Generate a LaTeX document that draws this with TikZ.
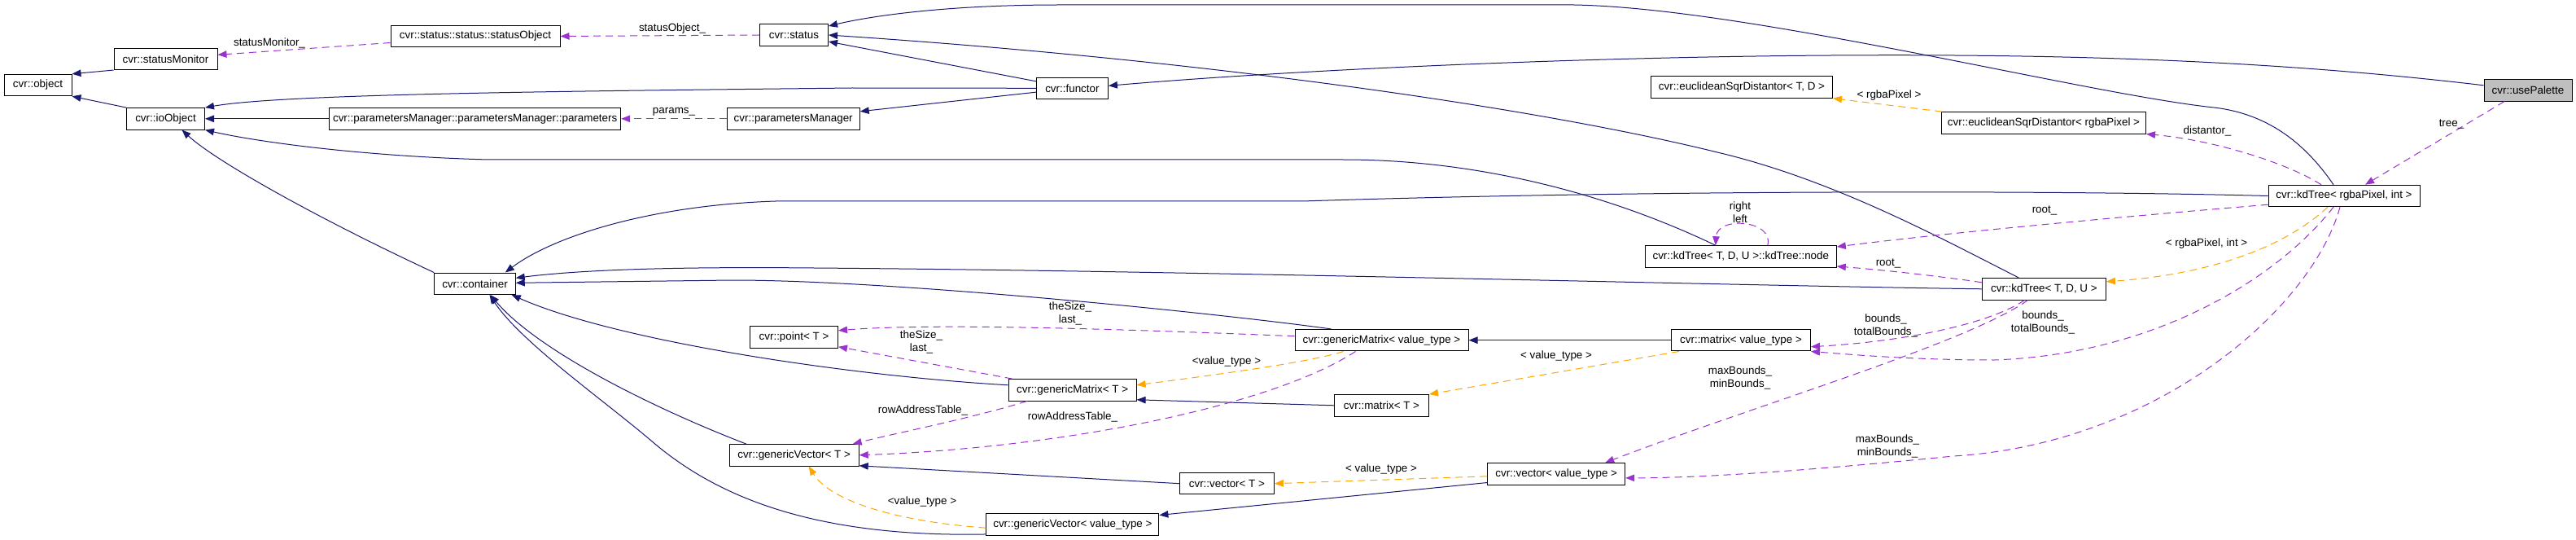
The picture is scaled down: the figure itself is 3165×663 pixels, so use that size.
\documentclass[tikz,border=0pt]{standalone}
\usepackage{fontspec}
\setmainfont{Liberation Sans}
\usepackage{xcolor}
\usetikzlibrary{arrows.meta, calc, positioning}

\definecolor{edgeblue}{HTML}{191970}
\definecolor{usepurple}{HTML}{9A32CD}
\definecolor{tmplorange}{HTML}{FFA500}
\definecolor{boxgray}{HTML}{BFBFBF}

\begin{document}
\begin{tikzpicture}[
        x=1pt, y=-1pt,
        font=\fontsize{13.4}{16}\selectfont,
        cls/.style={draw=black, line width=1pt, fill=white, inner sep=0pt, minimum height=26.5pt},
        inherit/.style={draw=edgeblue, line width=1pt, -{Triangle[length=11pt, width=8.5pt]}},
        uses/.style={draw=usepurple, line width=1pt, dash pattern=on 9pt off 6pt, -{Triangle[length=11pt, width=8.5pt]}},
        tmpl/.style={draw=tmplorange, line width=1pt, dash pattern=on 9pt off 6pt, -{Triangle[length=11pt, width=8.5pt]}},
        lbl/.style={inner sep=0pt, align=center}
    ]
        \useasboundingbox (0,0) rectangle (3165,663);

        % --- Classes ---
        \node[cls, minimum width=83pt]  (object)            at (46.5,104.5)  {cvr::object};
        \node[cls, minimum width=127pt] (statusMonitor)     at (203.5,72.3)  {cvr::statusMonitor};
        \node[cls, minimum width=208pt] (statusObject)      at (584,44.5)    {cvr::status::status::statusObject};
        \node[cls, minimum width=96pt]  (ioObject)          at (203.5,145.8) {cvr::ioObject};
        \node[cls, minimum width=358pt] (parameters)        at (583.7,145.8) {cvr::parametersManager::parametersManager::parameters};
        \node[cls, minimum width=84pt]  (status)            at (975.5,43)    {cvr::status};
        \node[cls, minimum width=88pt]  (functor)           at (1317.4,108.3) {cvr::functor};
        \node[cls, minimum width=163pt] (parametersManager) at (974.7,145.8) {cvr::parametersManager};
        \node[cls, minimum width=223pt] (euclidTD)          at (2140,107)    {cvr::euclideanSqrDistantor< T, D >};
        \node[cls, minimum width=251pt] (euclidRGBA)        at (2511,150.8)  {cvr::euclideanSqrDistantor< rgbaPixel >};
        \node[cls, fill=boxgray, minimum width=108pt] (usePalette) at (3106,110.8) {cvr::usePalette};
        \node[cls, minimum width=186pt] (kdTreeRGBA)        at (2880,240.5)  {cvr::kdTree< rgbaPixel, int >};
        \node[cls, minimum width=235pt] (kdNode)            at (2138.8,315)  {cvr::kdTree< T, D, U >::kdTree::node};
        \node[cls, minimum width=99.5pt] (container)        at (583.5,348.3) {cvr::container};
        \node[cls, minimum width=152pt] (kdTreeTDU)         at (2511.4,354.8) {cvr::kdTree< T, D, U >};
        \node[cls, minimum width=213pt] (genMatrixVT)       at (1697.5,417.7) {cvr::genericMatrix< value\_type >};
        \node[cls, minimum width=171pt] (matrixVT)          at (2139,417.7)  {cvr::matrix< value\_type >};
        \node[cls, minimum width=108pt] (point)             at (975.5,413.8) {cvr::point< T >};
        \node[cls, minimum width=157pt] (genMatrixT)        at (1317.6,478.8) {cvr::genericMatrix< T >};
        \node[cls, minimum width=116pt] (matrixT)           at (1697.5,497.8) {cvr::matrix< T >};
        \node[cls, minimum width=159pt] (genVectorT)        at (975.7,558.8) {cvr::genericVector< T >};
        \node[cls, minimum width=116pt] (vectorT)           at (1507.4,593.7) {cvr::vector< T >};
        \node[cls, minimum width=169pt] (vectorVT)          at (1912.2,581.8) {cvr::vector< value\_type >};
        \node[cls, minimum width=212pt] (genVectorVT)       at (1317.9,644.2) {cvr::genericVector< value\_type >};

        % --- Inheritance ---
        \draw[inherit] (statusMonitor.south west) -- (object.north east);
        \draw[inherit] (ioObject.north west) -- (object.south east);
        \draw[inherit] (parameters.west) -- (ioObject.east);
        \draw[inherit] (functor.west) -- (1047,108) .. controls (700,112) and (350,115) .. (ioObject.north east);
        \draw[inherit] (functor) -- (status);
        \draw[inherit] (functor) -- (parametersManager);
        \draw[inherit] (container.north west) .. controls (386,266) and (264,197) .. ($(ioObject.south)+(20,0)$);
        \draw[inherit] ($(kdNode.north)+(-31,0)$) .. controls (1980,240) and (1820,196) .. (1650,196)
            -- (600,196) .. controls (450,192) and (320,175) .. (ioObject.south east);
        \draw[inherit] ($(kdTreeRGBA.north)+(-13,0)$) .. controls (2835,180) and (2790,140) .. (2720,132)
            .. controls (2560,115) and (2150,10) .. (1934,6) -- (1302,6)
            .. controls (1150,6) and (1060,22) .. ($(status.east)+(0,-11)$);
        \draw[inherit] ($(kdTreeTDU.north)+(-31,0)$) .. controls (2380,290) and (2250,220) .. (2110,187)
            .. controls (1900,135) and (1500,75) .. (status.east);
        \draw[inherit] ($(usePalette.west)+(0,-6)$) .. controls (2800,75) and (2550,66) .. (2250,68)
            .. controls (1950,70) and (1600,85) .. ($(functor.east)+(0,-3)$);
        \draw[inherit] (kdTreeRGBA.west) .. controls (2500,233) and (2000,234) .. (1600,247) -- (953,247)
            .. controls (800,252) and (680,290) .. ($(container.north east)+(-13,0)$);
        \draw[inherit] (kdTreeTDU.west) .. controls (2100,350) and (1500,333) .. (1000,329)
            .. controls (800,327) and (700,333) .. ($(container.east)+(0,-7)$);
        \draw[inherit] ($(genMatrixVT.north west)+(45,0)$) .. controls (1500,385) and (1100,344) .. (900,344)
            -- ($(container.east)+(0,-1)$);
        \draw[inherit] ($(genMatrixT.west)+(0,-6)$) .. controls (1050,462) and (760,420) .. ($(container.south east)+(-5,0)$);
        \draw[inherit] ($(genVectorT.north west)+(21,0)$) .. controls (800,500) and (660,430) .. ($(container.south)+(19,0)$);
        \draw[inherit] ($(genVectorVT.south west)+(0,-2)$) .. controls (1000,660) and (880,610) .. (800,541)
            .. controls (740,490) and (640,420) .. ($(container.south)+(18,0)$);
        \draw[inherit] (matrixVT.west) -- (genMatrixVT.east);
        \draw[inherit] (matrixT.west) -- ($(genMatrixT.east)+(0,12)$);
        \draw[inherit] (vectorT.west) -- ($(genVectorT.east)+(0,13)$);
        \draw[inherit] ($(vectorVT.south west)+(0,-3)$) -- ($(genVectorVT.north east)+(0,2)$);

        % --- Members ---
        \draw[uses] ($(statusObject.west)+(0,8)$) -- ($(statusMonitor.east)+(0,-5)$);
        \node[lbl] (lMonitor) at (331,53) {statusMonitor\_};
        \draw[uses] (status.west) -- (statusObject.east);
        \node[lbl] (lStatObj) at (826,35) {statusObject\_};
        \draw[uses] (parametersManager.west) -- (parameters.east);
        \node[lbl] (lParams) at (828,137) {params\_};
        \draw[uses] ($(kdTreeRGBA.north)+(-28,0)$) .. controls (2810,200) and (2720,172) .. (euclidRGBA.south east);
        \node[lbl] (lDistantor) at (2712,161) {distantor\_};
        \draw[uses] ($(usePalette.south)+(-29,0)$) -- ($(kdTreeRGBA.north)+(26,0)$);
        \node[lbl] (lTree) at (3012,153) {tree\_};
        \draw[uses] ($(kdTreeRGBA.south west)+(0,-3)$) .. controls (2620,265) and (2400,285) .. ($(kdNode.east)+(0,-12)$);
        \node[lbl] (lRootA) at (2512,259) {root\_};
        \draw[uses] ($(kdTreeTDU.west)+(0,-8)$) .. controls (2390,340) and (2320,332) .. ($(kdNode.east)+(0,12)$);
        \node[lbl] (lRootB) at (2320,323) {root\_};
        \draw[uses] ($(kdNode.north)+(33,0)$) .. controls (2180,270) and (2110,265) .. ($(kdNode.north)+(-31,0)$);
        \node[lbl] (lLoop) at (2138,261) {right\\left};
        \draw[uses] ($(kdTreeRGBA.south)+(-13,0)$) .. controls (2800,340) and (2650,435) .. (2450,442)
            .. controls (2350,442) and (2270,435) .. (matrixVT.south east);
        \node[lbl] (lBoundsA) at (2317,400) {bounds\_\\totalBounds\_};
        \draw[uses] ($(kdTreeTDU.south)+(-24,0)$) .. controls (2440,400) and (2330,420) .. ($(matrixVT.east)+(0,8)$);
        \node[lbl] (lBoundsB) at (2510,396) {bounds\_\\totalBounds\_};
        \draw[uses] ($(kdTreeRGBA.south)+(-5,0)$) .. controls (2840,380) and (2650,545) .. (2400,560)
            .. controls (2250,575) and (2100,587) .. ($(vectorVT.east)+(0,5)$);
        \node[lbl] (lMinMaxA) at (2319,548) {maxBounds\_\\minBounds\_};
        \draw[uses] ($(kdTreeTDU.south)+(-20,0)$) .. controls (2420,420) and (2150,500) .. ($(vectorVT.north east)+(-25,0)$);
        \node[lbl] (lMinMaxB) at (2138,464) {maxBounds\_\\minBounds\_};
        \draw[uses] ($(genMatrixT.north west)+(5,0)$) -- ($(point.east)+(0,12)$);
        \node[lbl] (lSizeA) at (1132,420) {theSize\_\\last\_};
        \draw[uses] ($(genMatrixVT.west)+(0,-5)$) .. controls (1400,405) and (1150,396) .. ($(point.east)+(0,-8)$);
        \node[lbl] (lSizeB) at (1315,385) {theSize\_\\last\_};
        \draw[uses] ($(genMatrixT.south west)+(23,0)$) .. controls (1200,512) and (1100,532) .. ($(genVectorT.north east)+(-8,0)$);
        \node[lbl] (lRowA) at (1134,504) {rowAddressTable\_};
        \draw[uses] ($(genMatrixVT.south west)+(75,0)$) .. controls (1560,500) and (1300,550) .. (genVectorT.east);
        \node[lbl] (lRowB) at (1318,512) {rowAddressTable\_};

        % --- Template instances ---
        \draw[tmpl] ($(euclidRGBA.north west)+(1,0)$) -- (euclidTD.south east);
        \node[lbl] (lRgba) at (2321,117) {< rgbaPixel >};
        \draw[tmpl] ($(kdTreeRGBA.south)+(-20,0)$) .. controls (2800,310) and (2700,338) .. ($(kdTreeTDU.east)+(0,-9)$);
        \node[lbl] (lRgbaInt) at (2711,299) {< rgbaPixel, int >};
        \draw[tmpl] ($(matrixVT.south west)+(10,0)$) -- (matrixT.north east);
        \node[lbl] (lValA) at (1912,437) {< value\_type >};
        \draw[tmpl] ($(genMatrixVT.south west)+(60,0)$) .. controls (1610,445) and (1480,462) .. ($(genMatrixT.east)+(0,-6)$);
        \node[lbl] (lValB) at (1507,444) {<value\_type >};
        \draw[tmpl] ($(vectorVT.west)+(0,3)$) -- (vectorT.east);
        \node[lbl] (lValC) at (1697,576) {< value\_type >};
        \draw[tmpl] ($(genVectorVT.west)+(0,4)$) .. controls (1100,640) and (1020,615) .. ($(genVectorT.south)+(18,0)$);
        \node[lbl] (lValD) at (1133,616) {<value\_type >};

    \end{tikzpicture}
\end{document}
